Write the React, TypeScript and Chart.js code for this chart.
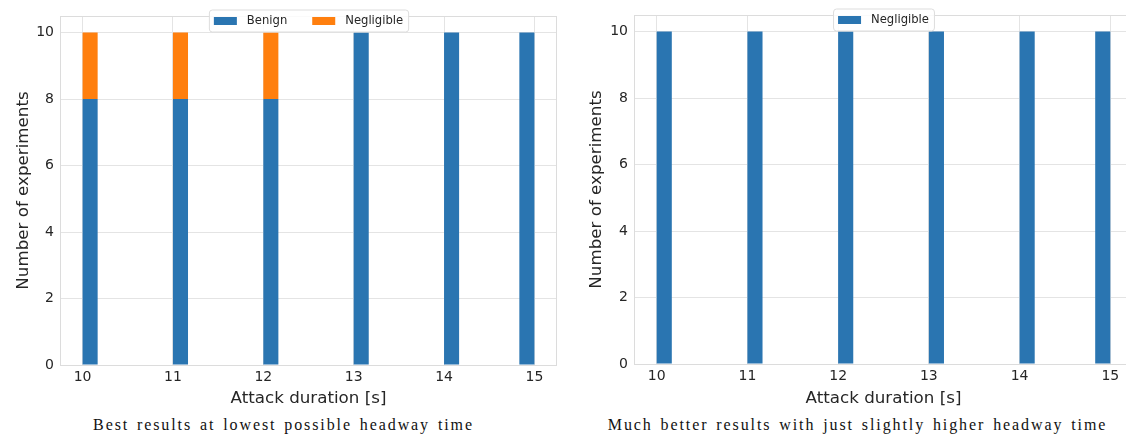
import React, { useEffect, useRef } from 'react';
import { Chart, registerables } from 'chart.js';

Chart.register(...registerables);

// ---- data ----
const BIN_CENTERS = [10.0833, 11.0833, 12.0833, 13.0833, 14.0833, 14.9167];
const BIN_WIDTH = 0.1667;
const LEFT_BENIGN = [8, 8, 8, 10, 10, 10];
const LEFT_NEGLIGIBLE = [2, 2, 2, 0, 0, 0];
const RIGHT_NEGLIGIBLE = [10, 10, 10, 10, 10, 10];
const X_TICKS = [10, 11, 12, 13, 14, 15];
const Y_TICKS = [0, 2, 4, 6, 8, 10];
const X_RANGE = [9.75, 15.25];
const Y_RANGE = [0, 10.5];
const X_TITLE = 'Attack duration [s]';
const Y_TITLE = 'Number of experiments';
const CAPTION_LEFT = 'Best results at lowest possible headway time';
const CAPTION_RIGHT = 'Much better results with just slightly higher headway time';

const BLUE = '#2a75b1';
const ORANGE = '#ff7f0e';
const TEXT = '#262626';
const GRID = '#e4e4e4';
const SPINE = '#dcdcdc';
const SANS = '"DejaVu Sans", sans-serif';

const minGap = (() => {
  let m = Infinity;
  for (let i = 1; i < BIN_CENTERS.length; i++) m = Math.min(m, BIN_CENTERS[i] - BIN_CENTERS[i - 1]);
  return m;
})();

const spinePlugin = {
  id: 'spines',
  afterDatasetsDraw(chart: any) {
    const { ctx, chartArea: a } = chart;
    ctx.save();
    ctx.strokeStyle = SPINE;
    ctx.lineWidth = 1;
    ctx.strokeRect(a.left + 0.5, a.top + 0.5, a.right - a.left - 1, a.bottom - a.top);
    ctx.restore();
  },
};

const legendPlugin = {
  id: 'boxLegend',
  afterDraw(chart: any) {
    const { ctx, chartArea: a } = chart;
    const items = chart.data.datasets.map((d: any) => ({ label: d.label, color: d.backgroundColor }));
    ctx.save();
    ctx.font = `11.6px ${SANS}`;
    const pad = 5, sw = 23, gap = 10, colGap = 25, h = 22;
    const widths = items.map((it: any) => sw + gap + ctx.measureText(it.label).width);
    const total = pad * 2 + widths.reduce((s: number, w: number) => s + w, 0) + colGap * (items.length - 1);
    const cx = (a.left + a.right) / 2;
    const left = cx - total / 2;
    const top = a.top - 6.5;
    ctx.beginPath();
    (ctx as any).roundRect(left + 0.5, top + 0.5, total, h, 3);
    ctx.fillStyle = 'rgba(255,255,255,0.85)';
    ctx.fill();
    ctx.strokeStyle = '#dddddd';
    ctx.lineWidth = 1;
    ctx.stroke();
    let x = left + pad;
    const cy = top + h / 2 + 0.5;
    items.forEach((it: any, i: number) => {
      ctx.fillStyle = it.color;
      ctx.fillRect(x, cy - 4, sw, 8);
      ctx.fillStyle = TEXT;
      ctx.textBaseline = 'middle';
      ctx.textAlign = 'left';
      ctx.fillText(it.label, x + sw + gap, cy);
      x += widths[i] + colGap;
    });
    ctx.restore();
  },
};

type Geo = {
  canvasW: number;
  canvasH: number;
  left: number;
  right: number;
  top: number;
  bottom: number;
  yTitleX: number;
};

function makeConfig(datasets: any[], g: Geo): any {
  return {
    type: 'bar',
    data: {
      datasets: datasets.map((d) => ({
        label: d.label,
        data: BIN_CENTERS.map((x, i) => ({ x, y: d.values[i] })),
        backgroundColor: d.color,
        borderWidth: 0,
        barPercentage: BIN_WIDTH / minGap,
        categoryPercentage: 1,
      })),
    },
    options: {
      animation: false,
      responsive: false,
      maintainAspectRatio: false,
      layout: { padding: { left: 0, top: g.top, right: g.canvasW - g.right, bottom: 0 } },
      plugins: { legend: { display: false }, tooltip: { enabled: false } },
      scales: {
        x: {
          type: 'linear',
          stacked: true,
          offset: false,
          min: X_RANGE[0],
          max: X_RANGE[1],
          afterBuildTicks: (s: any) => {
            s.ticks = X_TICKS.map((v) => ({ value: v }));
          },
          afterFit: (s: any) => {
            s.height = g.canvasH - g.bottom;
          },
          ticks: { color: TEXT, font: { family: SANS, size: 14 }, padding: 4, maxRotation: 0, autoSkip: false },
          grid: { color: GRID, lineWidth: 1, drawTicks: false, offset: false },
          border: { display: false },
          title: { display: true, text: X_TITLE, color: TEXT, font: { family: SANS, size: 16.7 }, padding: { top: 0, bottom: 3 } },
        },
        y: {
          type: 'linear',
          stacked: true,
          min: Y_RANGE[0],
          max: Y_RANGE[1],
          afterBuildTicks: (s: any) => {
            s.ticks = Y_TICKS.map((v) => ({ value: v }));
          },
          afterFit: (s: any) => {
            s.width = g.left;
          },
          ticks: { color: TEXT, font: { family: SANS, size: 14 }, padding: 6 },
          grid: { color: GRID, lineWidth: 1, drawTicks: false },
          border: { display: false },
          title: { display: true, text: Y_TITLE, color: TEXT, font: { family: SANS, size: 16.7 }, padding: { top: g.yTitleX - 10, bottom: 0 } },
        },
      },
    },
    plugins: [spinePlugin, legendPlugin],
  };
}

function ChartCanvas({ datasets, geo, style }: { datasets: any[]; geo: Geo; style: React.CSSProperties }) {
  const ref = useRef<HTMLCanvasElement>(null);
  useEffect(() => {
    if (!ref.current) return;
    const chart = new Chart(ref.current, makeConfig(datasets, geo));
    return () => chart.destroy();
  }, []);
  return (
    <canvas
      ref={ref}
      width={geo.canvasW}
      height={geo.canvasH}
      style={{ position: 'absolute', width: geo.canvasW, height: geo.canvasH, ...style }}
    />
  );
}

const captionStyle: React.CSSProperties = {
  position: 'absolute',
  top: 415,
  fontFamily: '"Liberation Serif", "DejaVu Serif", serif',
  fontSize: 16,
  letterSpacing: 1.9,
  wordSpacing: 2,
  color: '#111',
  whiteSpace: 'nowrap',
  transform: 'translateX(-50%)',
  lineHeight: '20px',
};

export default function App() {
  const leftGeo: Geo = { canvasW: 563, canvasH: 412, left: 60, right: 557, top: 16, bottom: 365, yTitleX: 24 };
  const rightGeo: Geo = { canvasW: 580, canvasH: 412, left: 71, right: 570, top: 15, bottom: 364, yTitleX: 34 };
  return (
    <div style={{ position: 'absolute', left: 0, top: 0, width: 1126, height: 437, overflow: 'hidden', background: '#fff' }}>
      <ChartCanvas
        geo={leftGeo}
        style={{ left: 0, top: 0 }}
        datasets={[
          { label: 'Benign', values: LEFT_BENIGN, color: BLUE },
          { label: 'Negligible', values: LEFT_NEGLIGIBLE, color: ORANGE },
        ]}
      />
      <ChartCanvas
        geo={rightGeo}
        style={{ left: 563, top: 0 }}
        datasets={[{ label: 'Negligible', values: RIGHT_NEGLIGIBLE, color: BLUE }]}
      />
      <div style={{ ...captionStyle, left: 283.5 }}>{CAPTION_LEFT}</div>
      <div style={{ ...captionStyle, left: 857.5 }}>{CAPTION_RIGHT}</div>
    </div>
  );
}
